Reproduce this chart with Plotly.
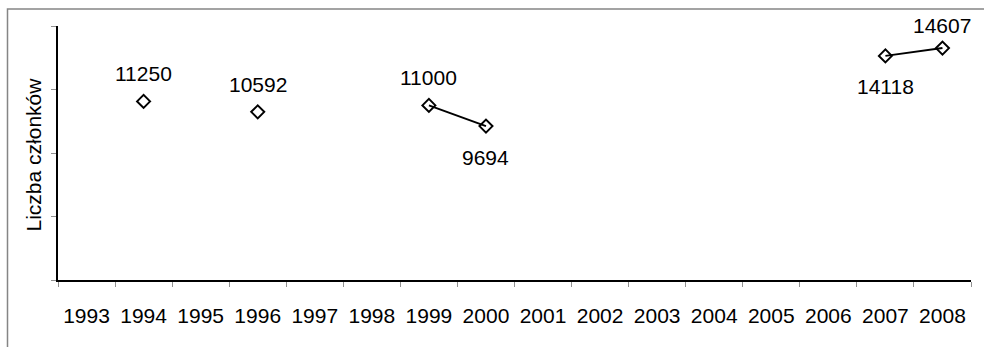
import plotly.graph_objects as go

years = [str(y) for y in range(1993, 2009)]
members = [None, 11250, None, 10592, None, None, 11000, 9694,
           None, None, None, None, None, None, 14118, 14607]
y_ticks = [0, 4000, 8000, 12000, 16000]
y_title = "Liczba członków"

# label placement (styling): vertical pixel shift per labelled year
label_shift = {"1994": 28, "1996": 27, "1999": 28, "2000": -31, "2007": -31, "2008": 23}

W, H = 984, 347
L, R, T, B = 58, 13, 26, 67
pw, ph = W - L - R, H - T - B

fig = go.Figure()
fig.add_trace(go.Scatter(
    x=years, y=members, mode="lines+markers", connectgaps=False,
    line=dict(color="black", width=2),
    marker=dict(symbol="diamond-open", size=10, color="black",
                line=dict(color="black", width=2)),
    showlegend=False, hoverinfo="skip"))

font = dict(family="Liberation Sans, Arial, sans-serif", size=21, color="black")

for i, (x, v) in enumerate(zip(years, members)):
    if v is None:
        continue
    fig.add_annotation(x=i, y=v, xref="x", yref="y", text=str(v), showarrow=False,
                       yshift=label_shift.get(x, 26), font=font)

# y axis title
fig.add_annotation(xref="paper", yref="paper",
                   x=(32.5 - L) / pw, y=(H - B - 155) / ph,
                   xanchor="center", yanchor="middle",
                   text=y_title, textangle=-90, showarrow=False, font=font)

# outer chart frame (gray, clipped at right/bottom)
fig.add_shape(type="rect", xref="paper", yref="paper",
              x0=(7.5 - L) / pw, x1=(W + 20 - L) / pw,
              y0=(H - B - (H + 20)) / ph, y1=(H - B - 9) / ph,
              line=dict(color="#858585", width=1.5), fillcolor="rgba(0,0,0,0)",
              layer="below")

fig.update_layout(
    width=W, height=H,
    margin=dict(l=L, r=R, t=T, b=B, pad=0),
    paper_bgcolor="white", plot_bgcolor="white",
    font=font,
    xaxis=dict(type="category", categoryorder="array", categoryarray=years,
               range=[-0.5, len(years) - 0.5], automargin=False,
               showline=True, linecolor="black", linewidth=1.5,
               showgrid=False, zeroline=False,
               ticks="outside", tickson="boundaries", ticklen=5,
               tickcolor="#909090", tickwidth=1,
               tickfont=font, ticklabelstandoff=16),
    yaxis=dict(range=[0, 16000], tickvals=y_ticks, showticklabels=False,
               automargin=False,
               showline=True, linecolor="black", linewidth=1.5,
               showgrid=False, zeroline=False,
               ticks="outside", ticklen=5, tickcolor="#909090", tickwidth=1),
)

fig.write_html("out.html", config={"displayModeBar": False},
               post_script="document.body.style.margin='0';document.body.style.overflow='hidden';")
